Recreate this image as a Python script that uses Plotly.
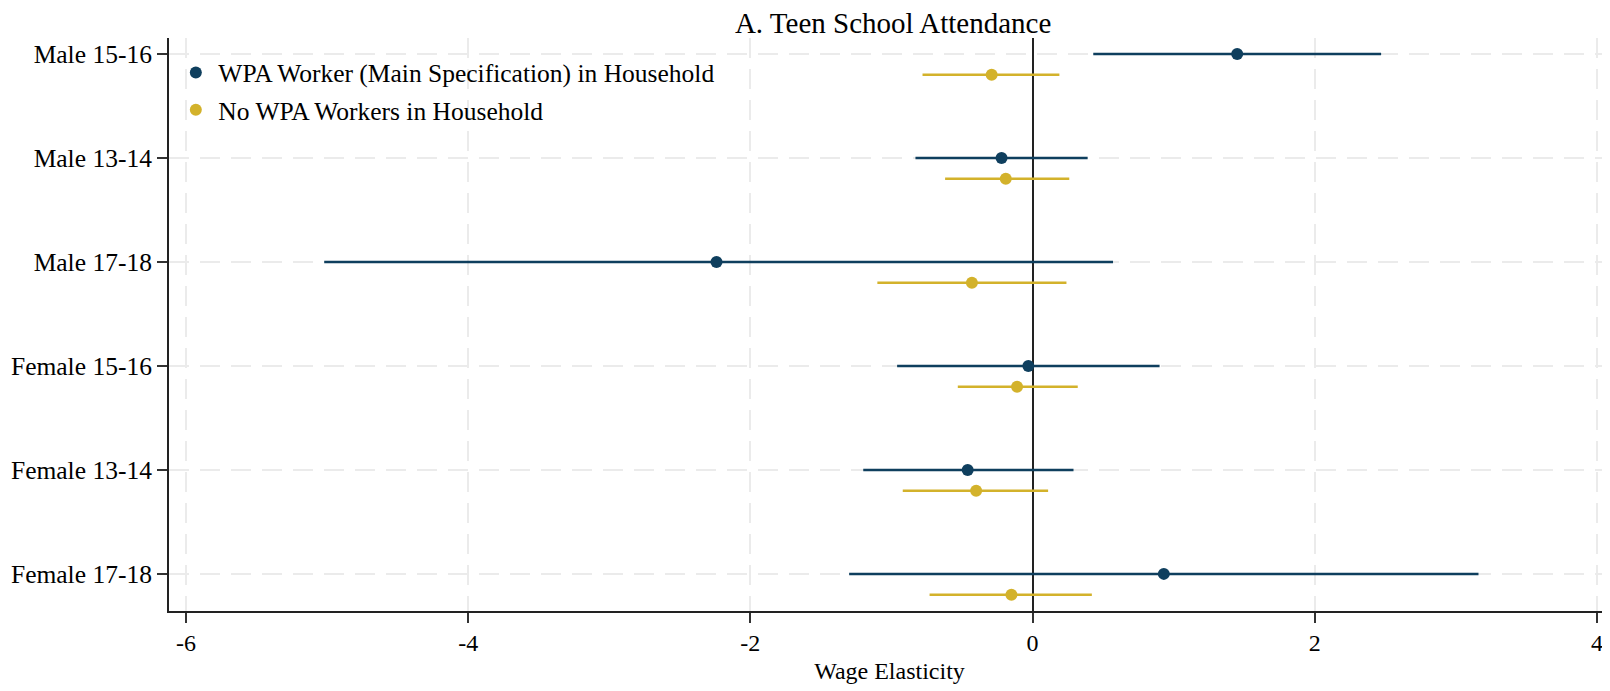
"""Coefficient plot: teen school attendance wage elasticities."""

import plotly.graph_objects as go

GROUPS = [
    "Male 15-16",
    "Male 13-14",
    "Male 17-18",
    "Female 15-16",
    "Female 13-14",
    "Female 17-18",
]

WPA_EST = [1.45, -0.22, -2.24, -0.03, -0.46, 0.93]
WPA_LO = [0.43, -0.83, -5.02, -0.96, -1.20, -1.30]
WPA_HI = [2.47, 0.39, 0.57, 0.90, 0.29, 3.16]

NO_EST = [-0.29, -0.19, -0.43, -0.11, -0.40, -0.15]
NO_LO = [-0.78, -0.62, -1.10, -0.53, -0.92, -0.73]
NO_HI = [0.19, 0.26, 0.24, 0.32, 0.11, 0.42]

X_TICKS = [-6, -4, -2, 0, 2, 4]

SERIES = [
    ("WPA Worker (Main Specification) in Household", WPA_EST, WPA_LO, WPA_HI, "#0f3f5e", 0.0),
    ("No WPA Workers in Household", NO_EST, NO_LO, NO_HI, "#d3b22b", -0.2),
]

FONT = "Liberation Serif"

n = len(GROUPS)
base_pos = [n - i for i in range(n)]

fig = go.Figure()
for k, (name, est, lo, hi, color, offset) in enumerate(SERIES):
    fig.add_trace(
        go.Scatter(
            x=est,
            y=[p + offset for p in base_pos],
            mode="markers",
            name=name,
            legendgroup=f"g{k}",
            marker={"color": color, "size": 12},
            error_x={
                "type": "data",
                "symmetric": False,
                "array": [h - e for h, e in zip(hi, est)],
                "arrayminus": [e - l for e, l in zip(est, lo)],
                "width": 0,
                "thickness": 2.5,
                "color": color,
            },
        )
    )

grid = {"gridcolor": "#ebebeb", "gridwidth": 2, "griddash": "20px,11px"}

# page body has an 8px margin, so the figure is sized to fit the window
fig.update_layout(
    width=1602,
    height=683,
    paper_bgcolor="white",
    plot_bgcolor="white",
    font={"family": FONT, "size": 25.5, "color": "black"},
    title={
        "text": "A. Teen School Attendance",
        "x": 0.5525,
        "xanchor": "center",
        "y": 0.979,
        "yanchor": "middle",
        "font": {"family": FONT, "size": 29, "color": "black"},
    },
    margin={"l": 161, "r": 0, "t": 30, "b": 79.5},
    showlegend=True,
    legend={
        "x": 0.003,
        "y": 0.98,
        "xanchor": "left",
        "yanchor": "top",
        "bgcolor": "rgba(0,0,0,0)",
        "font": {"family": FONT, "size": 25.5, "color": "black"},
        "tracegroupgap": 1,
        "itemwidth": 35,
    },
    xaxis={
        "range": [-6.12, 4.092],
        "tickvals": X_TICKS,
        "ticktext": [str(v) for v in X_TICKS],
        "ticks": "outside",
        "ticklen": 10,
        "tickwidth": 2,
        "tickcolor": "#333333",
        "ticklabelstandoff": -1,
        "tickfont": {"size": 24},
        "showline": True,
        "linecolor": "#222222",
        "linewidth": 2,
        "zeroline": True,
        "zerolinecolor": "#222222",
        "zerolinewidth": 2,
        "title": {"text": "Wage Elasticity", "standoff": 7, "font": {"size": 24}},
        "showgrid": True,
        **grid,
    },
    yaxis={
        "range": [0.643, 6.154],
        "tickvals": base_pos,
        "ticktext": GROUPS,
        "ticks": "outside",
        "ticklen": 10,
        "tickwidth": 2,
        "tickcolor": "#333333",
        "showline": True,
        "linecolor": "#222222",
        "linewidth": 2,
        "zeroline": False,
        "showgrid": True,
        **grid,
    },
)

fig.write_html("out.html")
